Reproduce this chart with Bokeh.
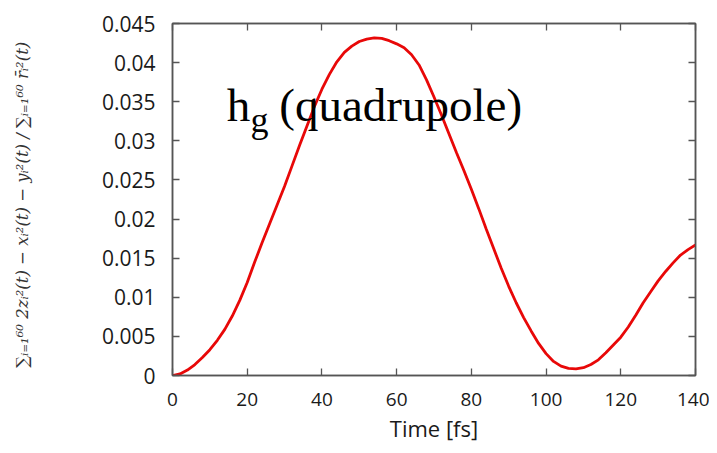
from bokeh.plotting import figure
from bokeh.models import FixedTicker, LinearAxis, Label, Range1d
from bokeh.embed import file_html
from bokeh.resources import INLINE

# Data
time_fs = [0, 2, 4, 6, 8, 10, 12, 14, 16, 18, 20, 22, 24, 26, 28, 30, 32, 34, 36,
           38, 40, 42, 44, 46, 48, 50, 52, 54, 56, 58, 60, 62, 64, 66, 68, 70, 72,
           74, 76, 78, 80, 82, 84, 86, 88, 90, 92, 94, 96, 98, 100, 102, 104, 106,
           108, 110, 112, 114, 116, 118, 120, 122, 124, 126, 128, 130, 132, 134,
           136, 138, 140]
quad = [0, 0.0002, 0.0007, 0.0014, 0.0023, 0.0033, 0.0045, 0.0059, 0.0076, 0.0096,
        0.0119, 0.0145, 0.0170, 0.0194, 0.0218, 0.0242, 0.0268, 0.0294, 0.0319,
        0.0344, 0.0366, 0.0385, 0.0401, 0.0413, 0.0421, 0.0427, 0.0430, 0.04315,
        0.0431, 0.0428, 0.0424, 0.0419, 0.0410, 0.0397, 0.0378, 0.0356, 0.0333,
        0.0309, 0.0285, 0.0262, 0.0238, 0.0213, 0.0187, 0.0162, 0.0137, 0.0114,
        0.0093, 0.0074, 0.0057, 0.0041, 0.0028, 0.0018, 0.0012, 0.0009, 0.00085,
        0.0010, 0.0014, 0.0020, 0.0029, 0.0039, 0.0049, 0.0062, 0.0077, 0.0093,
        0.0107, 0.0121, 0.0133, 0.0144, 0.0154, 0.0161, 0.0167]

x_ticks = [0, 20, 40, 60, 80, 100, 120, 140]
y_ticks = [0, 0.005, 0.01, 0.015, 0.02, 0.025, 0.03, 0.035, 0.04, 0.045]
y_tick_labels = ["0", "0.005", "0.01", "0.015", "0.02", "0.025", "0.03", "0.035", "0.04", "0.045"]

x_label = "Time [fs]"
y_label = "\u2211\u1d62\u208c\u2081\u2076\u2070 2z\u1d62\u00b2(t) \u2212 x\u1d62\u00b2(t) \u2212 y\u1d62\u00b2(t)  /  \u2211\u1d62\u208c\u2081\u2076\u2070 r\u0304\u1d62\u00b2(t)"

p = figure(width=709, height=445, output_backend="svg", toolbar_location=None,
           x_range=Range1d(0, 140), y_range=Range1d(0, 0.045),
           min_border_left=172, min_border_right=14, min_border_top=23,
           min_border_bottom=66)
p.background_fill_color = "white"
p.border_fill_color = "white"
p.xgrid.visible = False
p.ygrid.visible = False
p.outline_line_color = "#555555"
p.outline_line_width = 1.5

p.line(time_fs, quad, line_color="#e80808", line_width=2.8)

tick_font = "Open Sans"


def style(ax, ticks, size):
    ax.ticker = FixedTicker(ticks=ticks)
    ax.major_tick_in = 7
    ax.major_tick_out = 0
    ax.minor_tick_in = 0
    ax.minor_tick_out = 0
    ax.major_tick_line_color = "#555555"
    ax.major_tick_line_width = 1.3
    ax.axis_line_color = "#555555"
    ax.axis_line_width = 1.5
    if size:
        ax.major_label_text_font = tick_font
        ax.major_label_text_font_size = size
        ax.major_label_text_color = "#1a1a1a"
    else:
        ax.major_label_text_font_size = "1px"
        ax.major_label_text_color = None
        ax.major_label_standoff = 0


xa = p.xaxis[0]
style(xa, x_ticks, "19px")
xa.major_label_standoff = 17
xa.axis_label = x_label
xa.axis_label_text_font = tick_font
xa.axis_label_text_font_size = "22px"
xa.axis_label_text_font_style = "normal"
xa.axis_label_text_color = "#1a1a1a"
xa.axis_label_standoff = 4

ya = p.yaxis[0]
style(ya, y_ticks, "21px")
ya.major_label_standoff = 17
ya.major_label_overrides = {t: s for t, s in zip(y_ticks, y_tick_labels)}
ya.axis_label = y_label
ya.axis_label_text_font = "DejaVu Serif"
ya.axis_label_text_font_style = "italic"
ya.axis_label_text_font_size = "16.5px"
ya.axis_label_text_color = "#333333"
ya.axis_label_standoff = 67

top = LinearAxis()
style(top, x_ticks, None)
p.add_layout(top, "above")
right = LinearAxis()
style(right, y_ticks, None)
p.add_layout(right, "right")

serif = "Liberation Serif"
p.add_layout(Label(x=14.5, y=0.0346, text="h", text_font=serif,
                   text_font_size="47px", text_color="black",
                   text_baseline="alphabetic"))
p.add_layout(Label(x=20.9, y=0.0327, text="g", text_font=serif,
                   text_font_size="36px", text_color="black",
                   text_baseline="alphabetic"))
p.add_layout(Label(x=28.6, y=0.0346, text="(quadrupole)", text_font=serif,
                   text_font_size="47px", text_color="black",
                   text_baseline="alphabetic"))

open("out.html", "w").write(file_html(p, INLINE))
